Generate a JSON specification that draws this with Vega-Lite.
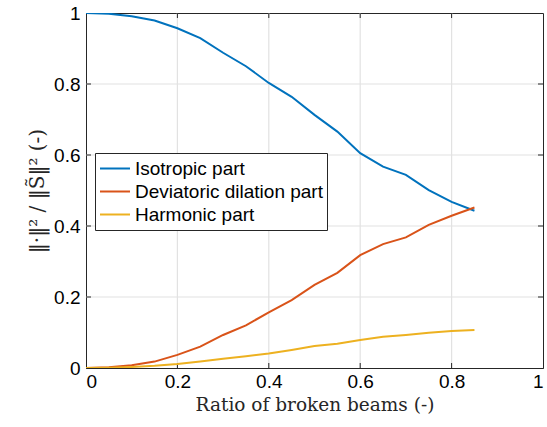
{
  "$schema": "https://vega.github.io/schema/vega-lite/v6.json",
  "width": 457,
  "height": 355,
  "autosize": {"type": "none"},
  "padding": {"left": 86, "top": 13, "right": 4, "bottom": 59},
  "background": "white",
  "config": {
    "view": {"stroke": "#262626", "strokeWidth": 1},
    "axis": {
      "labelFont": "Liberation Sans",
      "labelFontSize": 19,
      "labelColor": "#000000",
      "titleFont": "DejaVu Serif",
      "titleFontWeight": "normal",
      "titleColor": "#262626",
      "domainColor": "#262626",
      "grid": false,
      "ticks": false
    }
  },
  "resolve": {"axis": {"x": "independent", "y": "independent"}},
  "datasets": {
    "curves": [
      {"x": 0, "s": "Isotropic part", "v": 1.0},
      {"x": 0.05, "s": "Isotropic part", "v": 0.998},
      {"x": 0.1, "s": "Isotropic part", "v": 0.991},
      {"x": 0.15, "s": "Isotropic part", "v": 0.979},
      {"x": 0.2, "s": "Isotropic part", "v": 0.957},
      {"x": 0.25, "s": "Isotropic part", "v": 0.929},
      {"x": 0.3, "s": "Isotropic part", "v": 0.888},
      {"x": 0.35, "s": "Isotropic part", "v": 0.85},
      {"x": 0.4, "s": "Isotropic part", "v": 0.803},
      {"x": 0.45, "s": "Isotropic part", "v": 0.764},
      {"x": 0.5, "s": "Isotropic part", "v": 0.713},
      {"x": 0.55, "s": "Isotropic part", "v": 0.666},
      {"x": 0.6, "s": "Isotropic part", "v": 0.605},
      {"x": 0.65, "s": "Isotropic part", "v": 0.567},
      {"x": 0.7, "s": "Isotropic part", "v": 0.544},
      {"x": 0.75, "s": "Isotropic part", "v": 0.501},
      {"x": 0.8, "s": "Isotropic part", "v": 0.468},
      {"x": 0.85, "s": "Isotropic part", "v": 0.443},
      {"x": 0, "s": "Deviatoric dilation part", "v": 0.0},
      {"x": 0.05, "s": "Deviatoric dilation part", "v": 0.002},
      {"x": 0.1, "s": "Deviatoric dilation part", "v": 0.0075},
      {"x": 0.15, "s": "Deviatoric dilation part", "v": 0.018},
      {"x": 0.2, "s": "Deviatoric dilation part", "v": 0.037},
      {"x": 0.25, "s": "Deviatoric dilation part", "v": 0.06},
      {"x": 0.3, "s": "Deviatoric dilation part", "v": 0.093},
      {"x": 0.35, "s": "Deviatoric dilation part", "v": 0.12},
      {"x": 0.4, "s": "Deviatoric dilation part", "v": 0.157},
      {"x": 0.45, "s": "Deviatoric dilation part", "v": 0.191},
      {"x": 0.5, "s": "Deviatoric dilation part", "v": 0.234},
      {"x": 0.55, "s": "Deviatoric dilation part", "v": 0.268},
      {"x": 0.6, "s": "Deviatoric dilation part", "v": 0.318},
      {"x": 0.65, "s": "Deviatoric dilation part", "v": 0.349},
      {"x": 0.7, "s": "Deviatoric dilation part", "v": 0.368},
      {"x": 0.75, "s": "Deviatoric dilation part", "v": 0.403},
      {"x": 0.8, "s": "Deviatoric dilation part", "v": 0.429},
      {"x": 0.85, "s": "Deviatoric dilation part", "v": 0.452},
      {"x": 0, "s": "Harmonic part", "v": 0.0},
      {"x": 0.05, "s": "Harmonic part", "v": 0.001},
      {"x": 0.1, "s": "Harmonic part", "v": 0.003},
      {"x": 0.15, "s": "Harmonic part", "v": 0.006},
      {"x": 0.2, "s": "Harmonic part", "v": 0.011},
      {"x": 0.25, "s": "Harmonic part", "v": 0.018},
      {"x": 0.3, "s": "Harmonic part", "v": 0.026},
      {"x": 0.35, "s": "Harmonic part", "v": 0.033},
      {"x": 0.4, "s": "Harmonic part", "v": 0.041},
      {"x": 0.45, "s": "Harmonic part", "v": 0.051},
      {"x": 0.5, "s": "Harmonic part", "v": 0.062},
      {"x": 0.55, "s": "Harmonic part", "v": 0.068},
      {"x": 0.6, "s": "Harmonic part", "v": 0.079},
      {"x": 0.65, "s": "Harmonic part", "v": 0.088},
      {"x": 0.7, "s": "Harmonic part", "v": 0.093},
      {"x": 0.75, "s": "Harmonic part", "v": 0.099},
      {"x": 0.8, "s": "Harmonic part", "v": 0.104},
      {"x": 0.85, "s": "Harmonic part", "v": 0.107}
    ],
    "gridvals": [{"t": 0.2}, {"t": 0.4}, {"t": 0.6}, {"t": 0.8}]
  },
  "layer": [
    {
      "data": {"name": "gridvals"},
      "mark": {"type": "rule", "color": "#e2e2e2", "strokeWidth": 1.2},
      "encoding": {
        "x": {"field": "t", "type": "quantitative", "scale": {"domain": [0, 1], "nice": false}, "axis": null}
      }
    },
    {
      "data": {"name": "gridvals"},
      "mark": {"type": "rule", "color": "#e2e2e2", "strokeWidth": 1.2},
      "encoding": {
        "y": {"field": "t", "type": "quantitative", "scale": {"domain": [0, 1], "nice": false}, "axis": null}
      }
    },
    {
      "data": {"name": "gridvals"},
      "mark": {"type": "tick", "orient": "vertical", "color": "#262626", "size": 10, "thickness": 1, "clip": true, "opacity": 1},
      "encoding": {
        "x": {"field": "t", "type": "quantitative", "axis": null},
        "y": {"datum": 0, "type": "quantitative", "axis": null}
      }
    },
    {
      "data": {"name": "gridvals"},
      "mark": {"type": "tick", "orient": "vertical", "color": "#262626", "size": 10, "thickness": 1, "clip": true, "opacity": 1},
      "encoding": {
        "x": {"field": "t", "type": "quantitative", "axis": null},
        "y": {"datum": 1, "type": "quantitative", "axis": null}
      }
    },
    {
      "data": {"name": "gridvals"},
      "mark": {"type": "tick", "orient": "horizontal", "color": "#262626", "size": 10, "thickness": 1, "clip": true, "opacity": 1},
      "encoding": {
        "y": {"field": "t", "type": "quantitative", "axis": null},
        "x": {"datum": 0, "type": "quantitative", "axis": null}
      }
    },
    {
      "data": {"name": "gridvals"},
      "mark": {"type": "tick", "orient": "horizontal", "color": "#262626", "size": 10, "thickness": 1, "clip": true, "opacity": 1},
      "encoding": {
        "y": {"field": "t", "type": "quantitative", "axis": null},
        "x": {"datum": 1, "type": "quantitative", "axis": null}
      }
    },
    {
      "data": {"name": "curves"},
      "mark": {"type": "line", "strokeWidth": 2, "clip": true},
      "encoding": {
        "x": {"field": "x", "type": "quantitative", "scale": {"domain": [0, 1], "nice": false},
              "axis": {"orient": "bottom", "values": [0, 0.2, 0.4, 0.6, 0.8, 1], "labelExpr": "datum.value == 0 ? '0' : datum.value == 1 ? '1' : format(datum.value, '.1f')",
                       "labelPadding": 4,
                       "title": "Ratio of broken beams (-)", "titleFontSize": 18.5, "titlePadding": 4}},
        "y": {"field": "v", "type": "quantitative", "scale": {"domain": [0, 1], "nice": false},
              "axis": {"orient": "left", "values": [0, 0.2, 0.4, 0.6, 0.8, 1], "labelExpr": "datum.value == 0 ? '0' : datum.value == 1 ? '1' : format(datum.value, '.1f')",
                       "labelPadding": 6,
                       "title": "‖·‖² / ‖S̃‖²  (-)", "titleFontSize": 20, "titlePadding": 6}},
        "color": {
          "field": "s", "type": "nominal",
          "scale": {"domain": ["Isotropic part", "Deviatoric dilation part", "Harmonic part"], "range": ["#0072BD", "#D95319", "#EDB120"]},
          "legend": {
            "title": null,
            "orient": "none",
            "legendX": 9,
            "legendY": 140,
            "symbolType": "stroke",
            "symbolSize": 900,
            "symbolStrokeWidth": 2,
            "clipHeight": 23,
            "labelFont": "Liberation Sans",
            "labelFontSize": 19,
            "labelColor": "#000000",
            "labelOffset": 4,
            "labelLimit": 400,
            "rowPadding": 0,
            "padding": 4,
            "strokeColor": "#262626",
            "fillColor": "white"
          }
        }
      }
    }
  ]
}
